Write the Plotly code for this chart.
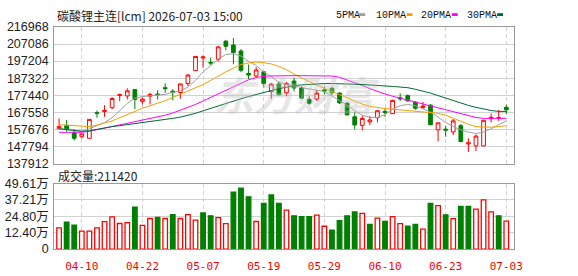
import plotly.graph_objects as go

# ---------------- data ----------------
dates = ["04-07","04-08","04-09","04-10","04-13","04-14","04-15","04-16","04-17","04-20",
         "04-21","04-22","04-23","04-24","04-27","04-28","04-29","04-30","05-06","05-07",
         "05-08","05-11","05-12","05-13","05-14","05-15","05-18","05-19","05-20","05-21",
         "05-22","05-25","05-26","05-27","05-28","05-29","06-01","06-02","06-03","06-04",
         "06-05","06-08","06-09","06-10","06-11","06-12","06-15","06-16","06-17","06-18",
         "06-22","06-23","06-24","06-25","06-26","06-29","06-30","07-01","07-02","07-03"]

open_ = [158042,160055,155846,153467,152552,167375,168107,170303,177257,177074,
         180734,173963,176891,178172,181832,179819,179087,184211,191714,199000,
         196472,198302,208733,206537,203060,190067,188603,190982,179636,184028,
         178904,185675,181649,175061,175244,180551,181466,178721,172865,164996,
         160055,162068,164447,168107,166826,175976,177257,173414,170303,171767,
         157493,157859,156212,159872,149258,148160,148160,163900,164300,170486]
high = [164081,163166,157859,155114,163532,168656,171767,176342,178355,181466,
        180734,176159,178904,180368,184394,180917,184028,189701,200100,200498,
        199217,205988,209465,210563,204158,195191,193727,191348,184577,185492,
        185126,187689,182747,176891,180551,182381,182381,179087,173414,167741,
        165545,165545,168839,169571,174878,178538,177989,174146,173597,172316,
        161519,159689,163715,160787,152552,154748,163349,166826,169022,171950]
low = [158042,156395,151271,152369,152552,164447,164996,169388,173963,175061,
       169388,172133,172133,175061,178904,174512,175427,182747,191531,193361,
       195008,197021,203426,195374,190799,186773,187871,182015,175427,177257,
       176891,179636,175244,171950,174146,177806,177623,172316,165911,157676,
       157127,160238,161702,164996,166643,174146,173963,169022,169571,160055,
       150722,153467,154382,150173,144683,145232,147977,161702,162617,166643]
close = [159323,157859,152552,155114,163532,167009,168656,175610,177806,180002,
         175061,175244,177989,177806,181283,179087,184028,189152,199900,199600,
         196106,205439,205805,202145,191897,189152,192080,184211,183900,177806,
         184211,181649,175793,172865,178721,180002,178904,173048,166094,160238,
         164081,163166,168473,167558,174512,175427,174146,169937,171218,160421,
         161519,157310,162617,150722,149990,153833,162983,164700,164500,169022]

ma5 = [158225,157859,157127,156761,158042,160055,161702,164447,168473,172682,
       175793,176708,177074,177440,177989,179087,180002,182198,186041,190982,
       194642,198302,201047,201413,200132,197021,194642,190982,188237,184943,
       183662,183113,181832,180917,180368,179636,176891,174512,171767,168473,
       165911,164630,164630,166277,169388,171401,172133,171401,169571,167741,
       164813,161702,159323,157493,156212,155297,156212,158042,160421,162617]
ma10 = [160421,160055,159689,159323,159323,160238,161519,162617,164447,166277,
        168473,169937,171401,172682,174329,176159,177989,179819,181649,183662,
        186041,188603,190982,193178,195191,196106,196655,196289,195557,194093,
        192263,189701,187322,185309,183296,181466,179636,177623,175793,173963,
        172316,171035,170303,169754,169388,169022,168839,168473,168107,167741,
        167009,165911,164081,162251,160604,159323,158957,158957,159323,159872]
ma20 = [156029,156029,156029,156029,156578,157493,158591,159506,160421,161336,
        162251,162983,163715,164813,165911,167192,168839,170303,172133,174146,
        176159,178172,180368,182381,184394,186407,187688,188420,188603,188786,
        188786,188786,188786,188786,188786,188786,188603,187871,186407,184943,
        183113,181283,179636,178172,176891,175793,174512,173414,172316,171035,
        169937,168839,167741,166643,165545,164630,164081,164081,164081,164081]
ma30 = [158042,157493,156944,156578,156944,157859,158591,159323,159872,160421,
        160970,161519,162068,162800,163349,164081,164813,165728,167009,168473,
        169937,171401,172865,174146,175427,176708,177989,179087,180185,181283,
        182198,182930,183479,183845,184028,184211,184211,184211,184028,183845,
        183662,183479,183113,182747,182564,182198,181832,180917,180002,178721,
        177257,175793,174329,172865,171584,170486,169388,168656,168107,168107]

volume = [160000,203000,182000,136000,136000,160000,208000,244000,193500,200700,
          317700,179000,231700,239000,231700,260000,231700,261000,219000,274000,
          252000,238000,192000,432000,461000,396000,209000,346000,410000,346000,
          295000,252000,245000,245000,257000,173000,144000,216000,252000,281000,
          271000,187000,235000,209000,245000,192000,173000,187000,151000,346000,
          329000,259000,230000,324000,324000,302000,372000,281000,252000,211420]

price_ticks = [137912,147794,157676,167558,177440,187322,197204,207086,216968]
vol_ticks = [0,124025,248050,372075,496100]
vol_tick_text = ["0","12.40万","24.80万","37.21万","49.61万"]
date_ticks = ["04-10","04-22","05-07","05-19","05-29","06-10","06-23","07-03"]

title_text = "碳酸锂主连[lcm] 2026-07-03 15:00"
ma_names = ["5PMA","10PMA","20PMA","30PMA"]

# ---------------- style ----------------
W, H = 578, 276
RED = "#ff0000"
GREEN = "#008000"
MA_COLORS = ["#a0a0a0", "#f0a000", "#ff00ff", "#006a35"]
GRID = "#d2d2d2"
FRAME = "#9a9a9a"

def px_x(p):
    return p / W

def px_y(p):
    return (H - p) / H

fig = go.Figure()

fig.add_trace(go.Candlestick(
    x=dates, open=open_, high=high, low=low, close=close,
    increasing=dict(line=dict(color=RED, width=1), fillcolor="white"),
    decreasing=dict(line=dict(color=GREEN, width=1), fillcolor=GREEN),
    whiskerwidth=0, xaxis="x", yaxis="y", hoverinfo="skip", showlegend=False))

for vals, col in zip([ma5, ma10, ma20, ma30], MA_COLORS):
    fig.add_trace(go.Scatter(x=dates, y=vals, mode="lines",
                             line=dict(color=col, width=1),
                             xaxis="x", yaxis="y", hoverinfo="skip", showlegend=False))

vol_up = [True] + [close[i] >= close[i - 1] for i in range(1, len(close))]
fig.add_trace(go.Bar(
    x=dates, y=volume, width=0.6,
    marker=dict(color=["white" if u else GREEN for u in vol_up],
                line=dict(color=[RED if u else GREEN for u in vol_up], width=1.3)),
    xaxis="x2", yaxis="y2", hoverinfo="skip", showlegend=False))

x_dom = [px_x(55), px_x(522)]
x_common = dict(domain=x_dom, type="category", range=[-0.65, 60.0],
                tickmode="array", tickvals=date_ticks,
                showgrid=True, gridcolor=GRID, griddash="4px,3px", gridwidth=1,
                zeroline=False, showline=True, mirror=True,
                linecolor=FRAME, linewidth=1, ticks="",
                rangeslider=dict(visible=False), fixedrange=True)

fig.update_layout(
    width=W, height=H, margin=dict(l=0, r=0, t=0, b=0),
    paper_bgcolor="white", plot_bgcolor="white",
    xaxis=dict(**x_common, anchor="y", showticklabels=False),
    xaxis2=dict(**x_common, anchor="y2", matches="x", showticklabels=True,
                ticktext=date_ticks,
                tickfont=dict(family="DejaVu Sans Mono", size=11, color=RED),
                ticklabelstandoff=7),
    yaxis=dict(domain=[px_y(165), px_y(21)], range=[price_ticks[0], price_ticks[-1]],
               tickmode="array", tickvals=price_ticks,
               ticktext=[str(v) for v in price_ticks],
               showgrid=True, gridcolor=GRID, gridwidth=1, zeroline=False,
               showline=True, mirror=True, linecolor=FRAME, linewidth=1, ticks="",
               tickfont=dict(family="Liberation Sans", size=12.5, color="#222222"),
               ticklabelstandoff=2, fixedrange=True),
    yaxis2=dict(domain=[px_y(255), px_y(186)], range=[0, vol_ticks[-1]],
                tickmode="array", tickvals=vol_ticks, ticktext=vol_tick_text,
                showgrid=True, gridcolor=GRID, gridwidth=1, zeroline=False,
                showline=True, mirror=True, linecolor=FRAME, linewidth=1, ticks="",
                tickfont=dict(family="Liberation Sans, Noto Sans CJK SC", size=12.5, color="#222222"),
                ticklabelstandoff=2, fixedrange=True),
    showlegend=False,
    bargap=0.3,
)

annotations = []
# title
annotations.append(dict(text=title_text, x=px_x(56), y=px_y(9), xref="paper", yref="paper",
                        xanchor="left", yanchor="middle", showarrow=False,
                        font=dict(family="Noto Sans CJK SC", size=12, color="#222222")))
# volume label
annotations.append(dict(text="成交量:" + str(volume[-1]), x=px_x(57), y=px_y(177),
                        xref="paper", yref="paper", xanchor="left", yanchor="middle",
                        showarrow=False,
                        font=dict(family="Noto Sans CJK SC", size=12, color="#222222")))
# watermark
annotations.append(dict(text="<b><i>东方财富</i></b>", x=px_x(302), y=px_y(92), xref="paper", yref="paper",
                        xanchor="center", yanchor="middle", showarrow=False,
                        font=dict(family="Noto Sans CJK SC", size=40, color="rgba(190,190,190,0.38)")))

# MA legend
legend_text_x = [339, 380, 426, 472]
legend_swatch_x = [365, 413, 459, 505]
shapes = []
for name, col, tx, sx in zip(ma_names, MA_COLORS, legend_text_x, legend_swatch_x):
    annotations.append(dict(text=name, x=px_x(tx), y=px_y(8.5), xref="paper", yref="paper",
                            xanchor="left", yanchor="middle", showarrow=False,
                            font=dict(family="Liberation Mono", size=10, color="#111111")))
    shapes.append(dict(type="rect", xref="paper", yref="paper",
                       x0=px_x(sx), x1=px_x(sx + 6), y0=px_y(9.5), y1=px_y(6.5),
                       fillcolor=col, line=dict(width=0)))

fig.update_layout(annotations=annotations, shapes=shapes)

fig.write_html("out.html", config={"displayModeBar": False})
